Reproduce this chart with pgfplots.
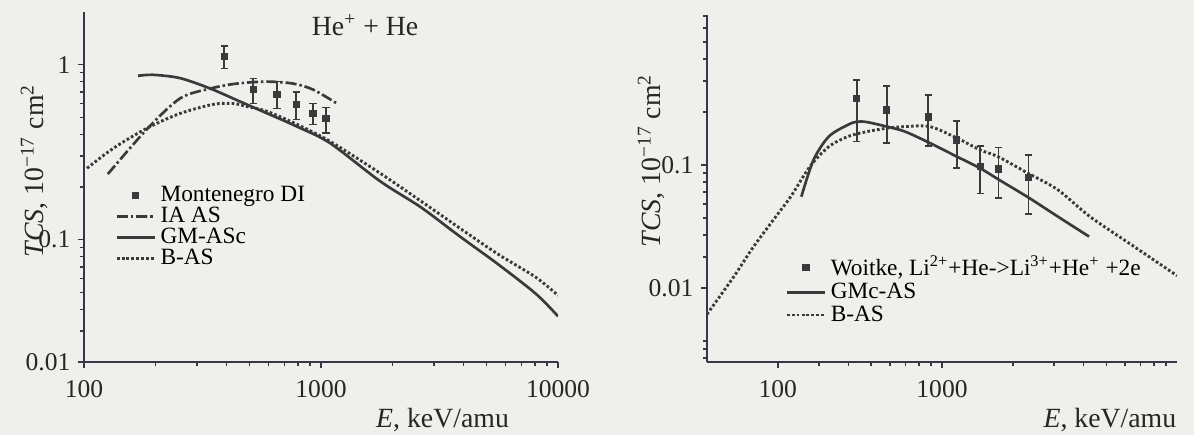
\documentclass[border=0pt]{standalone}
\usepackage{pgfplots}
\pgfplotsset{compat=1.18}
\usepackage{pgfplotstable}
\usepackage{fontspec}
\setmainfont{Liberation Serif}
\definecolor{ink}{RGB}{58,58,60}
\definecolor{axisink}{RGB}{55,55,72}
\definecolor{paper}{RGB}{239,239,236}

\pgfplotstableread{
E sig ep em
390 1.12 0.16 0.17
517 0.722 0.11 0.122
652 0.675 0.125 0.113
785 0.593 0.107 0.106
925 0.526 0.074 0.07
1050 0.493 0.077 0.087
}\montenegro

\pgfplotstableread{
E sig ep em
434 0.239 0.065 0.103
582 0.205 0.076 0.072
874 0.187 0.063 0.059
1155 0.1387 0.039 0.043
1452 0.0978 0.030 0.029
1737 0.0949 0.031 0.030
2330 0.0847 0.029 0.032
}\woitke

\tikzset{mycurve/.style={ink, line width=1.2pt, smooth, tension=0.5},
  mydots/.style={ink, line width=1.3pt, smooth, tension=0.5, dash pattern=on 1.2pt off 1.0pt}}

\begin{document}
\begin{tikzpicture}
\useasboundingbox (0,0) rectangle (537.3pt,195.75pt);
\fill[paper] (0,0) rectangle (537.3pt,195.75pt);

% ---------------- left panel ----------------
\begin{axis}[
  xmode=log, ymode=log, scale only axis,
  at={(37.8pt,32.85pt)}, anchor=south west,
  width=213.3pt, height=157.5pt,
  xmin=100, xmax=10000, ymin=0.02, ymax=2,
  axis x line*=bottom, axis y line*=left,
  axis line style={axisink, line width=0.9pt},
  tick align=outside,
  major tick length=2.6pt, minor tick length=1.7pt,
  tick style={axisink, line width=0.7pt},
  tick label style={font=\fontsize{11.5}{12}\selectfont, text=black!85},
  xticklabel style={yshift=-2pt},
  /pgf/number format/assume math mode=true,
  xtick={100,1000,10000}, xticklabels={100,1000,10000},
  minor xtick={200,300,400,500,600,700,800,900,2000,3000,4000,5000,6000,7000,8000,9000},
  ytick={0.1,1}, yticklabels={0.1,1},
  extra y ticks={0.02}, extra y tick labels={0.01},
  minor ytick={0.03,0.04,0.05,0.06,0.07,0.08,0.09,0.2,0.3,0.4,0.5,0.6,0.7,0.8,0.9},
  xlabel={\textit{E}, keV/amu},
  xlabel style={font=\fontsize{12.5}{14}\selectfont, text=black!85, at={(axis description cs:0.913,-0.166)}, anchor=east},
  ylabel={\textit{TCS}, 10\textsuperscript{−17} cm\textsuperscript{2}},
  ylabel style={font=\fontsize{12.5}{14}\selectfont, text=black!85, at={(axis description cs:-0.105,0.546)}, anchor=center},
  legend style={at={(axis description cs:0.065,0.517)}, anchor=north west, draw=none, fill=none,
    font=\fontsize{10.5}{11}\selectfont, row sep=-3pt, inner sep=0pt},
  legend cell align=left,
]
\addplot[ink, only marks, mark=square*, mark size=1.4pt,
  error bars/.cd, y dir=both, y explicit,
  error bar style={ink, line width=0.7pt},
  error mark options={ink, mark size=1.6pt, rotate=90, line width=0.7pt}]
  table[x=E, y=sig, y error plus=ep, y error minus=em]{\montenegro};
\addlegendentry{Montenegro DI}
\addplot[mycurve, dash pattern=on 5pt off 1.3pt on 1.1pt off 1.3pt] coordinates {
(126,0.237)(184,0.427)(254,0.641)(340,0.730)(442,0.780)(592,0.800)(762,0.780)(925,0.721)(1168,0.600)};
\addlegendentry{IA AS}
\addplot[mycurve] coordinates {
(169,0.864)(196,0.875)(254,0.838)(340,0.732)(455,0.616)(589,0.529)(789,0.444)(1089,0.357)(1774,0.216)(2642,0.153)(3830,0.105)(5555,0.0728)(8057,0.0491)(10000,0.0365)};
\addlegendentry{GM-ASc}
\addplot[mydots] coordinates {
(103,0.256)(133,0.333)(184,0.433)(254,0.526)(350,0.593)(425,0.600)(487,0.577)(592,0.541)(792,0.456)(1091,0.365)(1774,0.240)(2642,0.166)(3830,0.117)(5555,0.083)(8057,0.061)(10000,0.048)};
\addlegendentry{B-AS}
\node[font=\fontsize{12.5}{14}\selectfont, text=black!85] at (axis description cs:0.593,0.963) {He\textsuperscript{+} + He};
\end{axis}

% ---------------- right panel ----------------
\begin{axis}[
  xmode=log, ymode=log, scale only axis,
  at={(318.15pt,32.85pt)}, anchor=south west,
  width=211.5pt, height=156.15pt,
  xmin=100, xmax=10000, ymin=0.0076, ymax=0.71,
  axis x line*=bottom, axis y line*=left,
  axis line style={axisink, line width=0.9pt},
  tick align=outside,
  major tick length=2.6pt, minor tick length=1.7pt,
  tick style={axisink, line width=0.7pt},
  tick label style={font=\fontsize{11.5}{12}\selectfont, text=black!85},
  xticklabel style={yshift=-2pt},
  /pgf/number format/assume math mode=true,
  xtick={1000}, xticklabels={1000},
  extra x ticks={200}, extra x tick labels={100},
  minor xtick={300,400,500,600,700,800,900,2000,3000,4000,5000,6000,7000,8000,9000},
  ytick={0.1}, yticklabels={0.1},
  extra y ticks={0.02}, extra y tick labels={0.01},
  minor ytick={0.008,0.009,0.01,0.03,0.04,0.05,0.06,0.07,0.08,0.09,0.2,0.3,0.4,0.5,0.6,0.7},
  xlabel={\textit{E}, keV/amu},
  xlabel style={font=\fontsize{12.5}{14}\selectfont, text=black!85, at={(axis description cs:1.015,-0.167)}, anchor=east},
  ylabel={\textit{TCS}, 10\textsuperscript{−17} cm\textsuperscript{2}},
  ylabel style={font=\fontsize{12.5}{14}\selectfont, text=black!85, at={(axis description cs:-0.119,0.58)}, anchor=center},
  legend style={at={(axis description cs:0.166,0.32)}, anchor=north west, draw=none, fill=none,
    font=\fontsize{10.5}{11}\selectfont, row sep=-2.2pt, inner sep=0pt},
  legend cell align=left,
]
\addplot[ink, only marks, mark=square*, mark size=1.4pt,
  error bars/.cd, y dir=both, y explicit,
  error bar style={ink, line width=0.7pt},
  error mark options={ink, mark size=1.6pt, rotate=90, line width=0.7pt}]
  table[x=E, y=sig, y error plus=ep, y error minus=em]{\woitke};
\addlegendentry{Woitke, Li\textsuperscript{2+}+He->Li\textsuperscript{3+}+He\textsuperscript{+} +2e}
\addplot[mycurve] coordinates {
(252,0.066)(284,0.1068)(330,0.145)(398,0.169)(435,0.176)(480,0.175)(583,0.165)(696,0.1546)(889,0.133)(1158,0.1114)(1452,0.0958)(1765,0.0817)(2345,0.065)(3117,0.0508)(4224,0.0392)};
\addlegendentry{GMc-AS}
\addplot[mydots] coordinates {
(100,0.0142)(130,0.0232)(156,0.0336)(189,0.0476)(227,0.066)(274,0.0978)(330,0.127)(398,0.145)(480,0.1546)(583,0.1616)(696,0.165)(889,0.165)(1158,0.142)(1452,0.1217)(1730,0.1114)(2323,0.0897)(3117,0.0721)(4266,0.0508)(6561,0.0344)(10000,0.0235)};
\addlegendentry{B-AS}
\end{axis}
\end{tikzpicture}
\end{document}
